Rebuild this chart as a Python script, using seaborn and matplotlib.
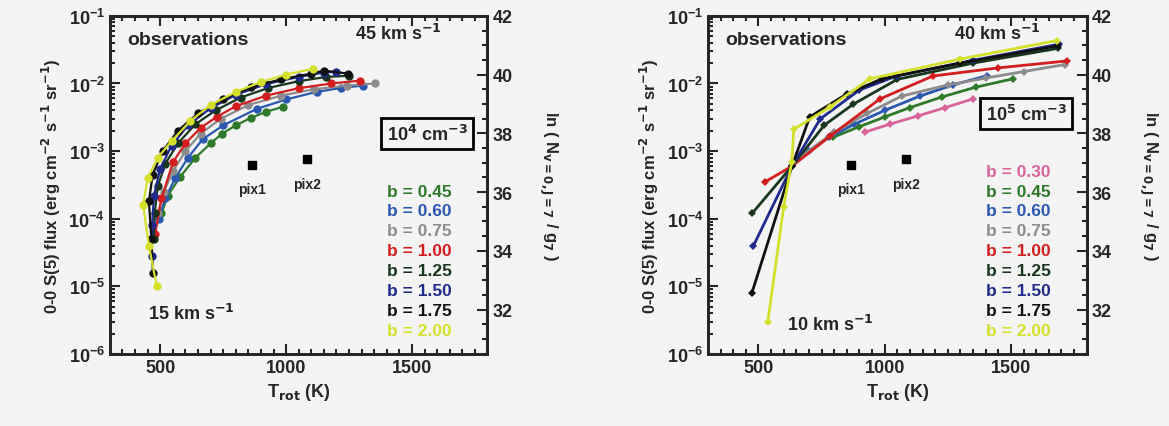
import numpy as np
import pandas as pd
import matplotlib
matplotlib.use('Agg')
import matplotlib.pyplot as plt
import matplotlib.ticker as mticker
import seaborn as sns

# b values and colours (shared)
b_labels = ['0.30', '0.45', '0.60', '0.75', '1.00', '1.25', '1.50', '1.75', '2.00']
b_colors = ['#d8649a', '#2f7a2a', '#2a57b0', '#8c8c8c', '#d21e1e',
            '#17361c', '#1f2a8a', '#111111', '#d4e02c']

# ---- n = 1e4 cm^-3 panel (15 - 45 km/s) ----
lo_045_T = [505, 530, 578, 640, 700, 745, 800, 860, 920, 986]
lo_045_F = [1.2e-4, 2.2e-4, 4.1e-4, 8e-4, 1.3e-3, 1.8e-3, 2.4e-3, 3.1e-3, 3.8e-3, 4.5e-3]
lo_060_T = [495, 520, 560, 610, 669, 750, 883, 1000, 1121, 1220, 1304]
lo_060_F = [1e-4, 2e-4, 4e-4, 8e-4, 1.5e-3, 2.4e-3, 4.2e-3, 5.8e-3, 7.5e-3, 8.6e-3, 9.3e-3]
lo_075_T = [490, 515, 550, 600, 660, 740, 850, 980, 1110, 1240, 1352]
lo_075_F = [1.2e-4, 2.5e-4, 5e-4, 1e-3, 1.8e-3, 3e-3, 4.8e-3, 6.6e-3, 8.2e-3, 9.3e-3, 1e-2]
lo_100_T = [480, 505, 551, 600, 660, 724, 800, 920, 1050, 1180, 1292]
lo_100_F = [6e-5, 2e-4, 6.9e-4, 1.3e-3, 2.2e-3, 3.2e-3, 4.6e-3, 6.6e-3, 8.5e-3, 1e-2, 1.1e-2]
lo_125_T = [475, 478, 490, 520, 570, 640, 720, 820, 930, 1050, 1160, 1250]
lo_125_F = [5e-5, 1.2e-4, 3e-4, 6.5e-4, 1.3e-3, 2.5e-3, 4e-3, 6.2e-3, 8.6e-3, 1.08e-2, 1.25e-2, 1.3e-2]
lo_150_T = [466, 468, 475, 500, 545, 610, 700, 800, 920, 1050, 1150, 1200]
lo_150_F = [2.8e-5, 8e-5, 2.2e-4, 5.5e-4, 1.2e-3, 2.4e-3, 4.3e-3, 6.8e-3, 9.8e-3, 1.25e-2, 1.45e-2, 1.5e-2]
lo_175_T = [471, 465, 455, 470, 510, 570, 650, 750, 860, 980, 1100, 1150, 1245]
lo_175_F = [1.6e-5, 5e-5, 1.8e-4, 4.5e-4, 1e-3, 2e-3, 3.6e-3, 5.9e-3, 8.8e-3, 1.15e-2, 1.4e-2, 1.55e-2, 1.4e-2]
lo_200_T = [486, 455, 432, 450, 490, 545, 620, 700, 800, 900, 1000, 1106]
lo_200_F = [1e-5, 4e-5, 1.6e-4, 4e-4, 8e-4, 1.4e-3, 2.8e-3, 4.8e-3, 7.5e-3, 1.05e-2, 1.35e-2, 1.65e-2]

# ---- n = 1e5 cm^-3 panel (10 - 40 km/s) ----
hi_030_T = [921, 1020, 1130, 1240, 1349]
hi_030_F = [1.9e-3, 2.5e-3, 3.3e-3, 4.4e-3, 5.9e-3]
hi_045_T = [795, 900, 1000, 1100, 1226, 1360, 1507]
hi_045_F = [1.6e-3, 2.3e-3, 3.2e-3, 4.4e-3, 6.3e-3, 8.8e-3, 1.17e-2]
hi_060_T = [700, 780, 880, 1000, 1139, 1270, 1404]
hi_060_F = [1e-3, 1.6e-3, 2.5e-3, 4e-3, 6.5e-3, 9.5e-3, 1.3e-2]
hi_075_T = [680, 800, 930, 1067, 1250, 1400, 1550, 1713]
hi_075_F = [9e-4, 1.9e-3, 3.6e-3, 6.5e-3, 9.5e-3, 1.2e-2, 1.5e-2, 1.9e-2]
hi_100_T = [526, 633, 783, 981, 1191, 1450, 1721]
hi_100_F = [3.5e-4, 6e-4, 1.66e-3, 5.9e-3, 1.29e-2, 1.7e-2, 2.15e-2]
hi_125_T = [475, 633, 760, 874, 1050, 1350, 1685]
hi_125_F = [1.2e-4, 6e-4, 2.4e-3, 4.9e-3, 1.15e-2, 2e-2, 3.3e-2]
hi_150_T = [479, 633, 745, 900, 1050, 1350, 1690]
hi_150_F = [3.9e-5, 6e-4, 3e-3, 8e-3, 1.3e-2, 2.2e-2, 3.8e-2]
hi_175_T = [474, 633, 703, 850, 989, 1300, 1685]
hi_175_F = [8e-6, 6e-4, 3.2e-3, 7e-3, 1.17e-2, 2e-2, 3.6e-2]
hi_200_T = [537, 600, 632, 640, 783, 941, 1300, 1681]
hi_200_F = [3e-6, 1.5e-4, 7e-4, 2.1e-3, 4.5e-3, 1.17e-2, 2.3e-2, 4.3e-2]

# observed pixels
obs_names = ['pix1', 'pix2']
obs_T = [865, 1083]
obs_F = [6.3e-4, 7.6e-4]


def make_frame(curves):
    rows = []
    for b, T, F in curves:
        for t, f in zip(T, F):
            rows.append({'b': b, 'T': t, 'F': f})
    return pd.DataFrame(rows)


lo_df = make_frame([
    ('0.45', lo_045_T, lo_045_F), ('0.60', lo_060_T, lo_060_F),
    ('0.75', lo_075_T, lo_075_F), ('1.00', lo_100_T, lo_100_F),
    ('1.25', lo_125_T, lo_125_F), ('1.50', lo_150_T, lo_150_F),
    ('1.75', lo_175_T, lo_175_F), ('2.00', lo_200_T, lo_200_F)])
hi_df = make_frame([
    ('0.30', hi_030_T, hi_030_F), ('0.45', hi_045_T, hi_045_F),
    ('0.60', hi_060_T, hi_060_F), ('0.75', hi_075_T, hi_075_F),
    ('1.00', hi_100_T, hi_100_F), ('1.25', hi_125_T, hi_125_F),
    ('1.50', hi_150_T, hi_150_F), ('1.75', hi_175_T, hi_175_F),
    ('2.00', hi_200_T, hi_200_F)])

palette = dict(zip(b_labels, b_colors))

sns.set_style('ticks')
plt.rcParams['font.family'] = ['Liberation Sans', 'DejaVu Sans']
plt.rcParams['font.weight'] = 'bold'
plt.rcParams['mathtext.default'] = 'bf'
plt.rcParams['axes.labelweight'] = 'bold'

fig = plt.figure(figsize=(11.69, 4.27), dpi=100, facecolor='#f4f4f4')
ax1 = fig.add_axes([0.094, 0.1686, 0.323, 0.792])
ax2 = fig.add_axes([0.6056, 0.1686, 0.324, 0.792])


def style_panel(ax, df, dens, vhi, vlo, vlo_pos, labels, leg_top, marker, ms, lw):
    ax.set_facecolor('none')
    sns.lineplot(data=df, x='T', y='F', hue='b', palette=palette, sort=False,
                 estimator=None, marker=marker, markersize=ms, markeredgewidth=0,
                 linewidth=lw, legend=False, ax=ax)
    ax.set_yscale('log')
    ax.set_xlim(300, 1800)
    ax.set_ylim(1e-6, 1e-1)
    ax.set_xticks([500, 1000, 1500])
    ax.xaxis.set_minor_locator(mticker.MultipleLocator(50))
    ax.yaxis.set_major_locator(mticker.LogLocator(base=10, numticks=10))
    ax.yaxis.set_minor_locator(mticker.LogLocator(base=10, subs=np.arange(2, 10), numticks=10))
    ax.tick_params(which='both', direction='in', top=True, right=False, width=1.5)
    ax.tick_params(which='major', length=7, labelsize=13)
    ax.tick_params(which='minor', length=3.5)
    for s in ax.spines.values():
        s.set_linewidth(2)
    ax.set_xlabel(r'T$_{\mathbf{rot}}$ (K)', fontsize=13)
    ax.set_ylabel(r'0-0 S(5) flux (erg cm$^{-2}$ s$^{-1}$ sr$^{-1}$)', fontsize=12)
    # observations
    ax.scatter(obs_T, obs_F, marker='s', s=40, color='black', zorder=5)
    for n, t, f in zip(obs_names, obs_T, obs_F):
        ax.text(t, f * 0.55, n, ha='center', va='top', fontsize=10)
    ax.text(0.045, 0.93, 'observations', transform=ax.transAxes, fontsize=14, va='center')
    ax.text(0.65, 0.95, vhi + r' km s$^{-1}$', transform=ax.transAxes, fontsize=13, va='center')
    ax.text(vlo_pos[0], vlo_pos[1], vlo + r' km s$^{-1}$', transform=ax.transAxes,
            fontsize=13, va='center')
    ax.text(0.84, leg_top + 0.17, dens, transform=ax.transAxes, fontsize=13,
            ha='center', va='center',
            bbox=dict(boxstyle='square,pad=0.3', fc='none', ec='black', lw=2))
    for i, b in enumerate(labels):
        ax.text(0.735, leg_top - i * 0.059, 'b = ' + b, transform=ax.transAxes,
                fontsize=12.5, color=palette[b], va='center')
    # right-hand ln(N/g) axis
    axr = ax.twinx()
    axr.set_ylim(42 - np.log(1e5), 42)
    axr.set_yticks([32, 34, 36, 38, 40, 42])
    axr.yaxis.set_minor_locator(mticker.MultipleLocator(0.5))
    axr.tick_params(which='both', direction='in', width=1.5, labelsize=13)
    axr.tick_params(which='major', length=7)
    axr.tick_params(which='minor', length=3.5)
    for s in axr.spines.values():
        s.set_linewidth(2)
    axr.set_ylabel(r'ln ( N$_{v=0,J=7}$ / g$_7$ )', rotation=270, fontsize=12, labelpad=34)


style_panel(ax1, lo_df, r'10$^4$ cm$^{-3}$', '45', '15', (0.1, 0.12),
            b_labels[1:], 0.482, 'o', 6, 1.6)
style_panel(ax2, hi_df, r'10$^5$ cm$^{-3}$', '40', '10', (0.21, 0.09),
            b_labels, 0.541, 'D', 4, 2.0)

plt.savefig('out.png', dpi=100, facecolor=fig.get_facecolor())
plt.close()
